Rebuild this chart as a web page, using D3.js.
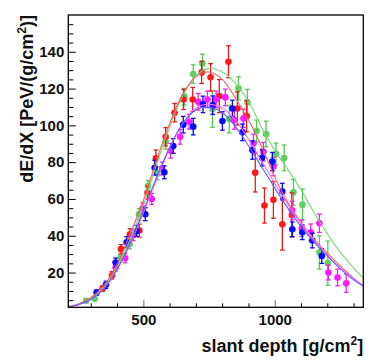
<!DOCTYPE html>
<html><head><meta charset="utf-8">
<script src="https://cdn.jsdelivr.net/npm/d3@7"></script>
<style>body{margin:0;background:#fff}svg{display:block}</style>
</head><body>
<svg id="chart" width="383" height="362"></svg>
<script>
// ---- data ----
const xDomain = [214.6, 1337];
const yDomain = [1.1, 160];
const xMajorTicks = [500, 1000];
const xMinorTicks = [300, 400, 600, 700, 800, 900, 1100, 1200, 1300];
const yMajorTicks = [20, 40, 60, 80, 100, 120, 140];
const yMinorTicks = [5,10,15,25,30,35,45,50,55,65,70,75,85,90,95,105,110,115,125,130,135,145,150,155];

const redX = [345, 381, 415, 449, 485, 516, 548, 585, 619, 653, 688, 722, 756, 789, 824, 858, 893, 926, 961, 995, 1029, 1065];
const redY = [11.3, 18.5, 32.7, 40.8, 42.8, 63.4, 82.1, 93.8, 106.9, 114.1, 114.1, 128.8, 126.1, 115.9, 134.6, 109.2, 105.0, 74.3, 56.4, 59.5, 46.2, 51.3];
const redE = [1.5, 2, 2.5, 3, 3.5, 3.5, 4.5, 5, 5, 5.5, 6.5, 6, 7.5, 9, 8.7, 9, 8.5, 10.5, 9.5, 10, 14, 12];

const greenX = [282, 315, 414, 448, 483.5, 518, 553, 585, 656, 690, 725, 763, 827, 862, 896, 931, 967, 1005, 1036, 1071, 1105.5, 1170, 1202];
const greenY = [4.6, 5.7, 28.3, 35.4, 51.7, 67, 73.9, 91.1, 115.6, 127.9, 133.7, 108.9, 103.4, 120.1, 112.6, 96.9, 95.3, 84.4, 82.3, 63.6, 56.9, 30.9, 25.1];
const greenE = [0.5, 0.5, 2, 2.5, 3, 3, 3.5, 4, 4.5, 5, 5, 10, 7.5, 6.3, 7, 6, 7, 6, 7, 7, 8.5, 9, 12];

const magX = [394.7, 431, 462, 497.5, 532, 572, 604, 640, 674, 709, 744, 777, 812, 846.5, 881, 919, 957, 995, 1066, 1103, 1137, 1170, 1204, 1239, 1272];
const magY = [22.7, 27.8, 40.3, 54.9, 60, 76.6, 86.2, 93.8, 102, 112.8, 114.1, 114.1, 115.2, 102.9, 103.8, 90.2, 85.7, 77.6, 53.7, 44.1, 41.9, 46.8, 20, 17.3, 14.2];
const magE = [2, 2.5, 3, 3, 3, 3.5, 4, 4, 4, 4.5, 4.5, 4.5, 4.5, 5, 5, 5, 5, 5, 5, 4.5, 4.5, 5, 4, 4.5, 5];

const blueX = [322.3, 357.9, 394.7, 436.5, 474.6, 507.6, 543, 580, 614, 652, 690, 727, 764, 801, 839, 877, 915, 952, 991, 1029, 1067, 1105, 1143, 1179];
const blueY = [9.1, 13.3, 25.4, 36.5, 42.6, 51.7, 77, 74.5, 88.8, 100.4, 99.3, 111.4, 111, 102.4, 109.2, 96.2, 86.6, 82.4, 80.3, 64, 43.5, 41.9, 37.4, 29];
const blueE = [1.5, 2, 2.5, 3, 3, 3.5, 4, 3.5, 4, 4.5, 4.5, 4.5, 5, 5, 4.5, 4.5, 5, 4.5, 5, 4.5, 4, 4, 4, 4];

const curveX = [214.6, 250, 300, 350, 400, 450, 500, 550, 600, 650, 700, 750, 800, 850, 900, 950, 1000, 1050, 1100, 1150, 1200, 1250, 1300, 1337];
const redCurve   = [1.5, 2.8, 6.3, 13, 24.5, 41, 59, 81, 101, 117, 126.5, 129, 125, 115, 103, 88.5, 72, 58, 47, 38, 30.5, 23.5, 17, 12.8];
const greenCurve = [1.5, 2.6, 5.8, 12, 23, 38, 56.5, 78.5, 99, 116, 127, 131, 129, 123, 113, 99, 86.5, 76, 65, 52.5, 41, 31, 22.5, 17];
const magCurve   = [1.3, 2.4, 5.3, 11.3, 21.5, 35.5, 52.5, 70.5, 87.5, 101, 109.5, 111.5, 109.5, 103, 92.5, 80.5, 68.5, 57, 46.5, 37.5, 29.5, 22.5, 16.5, 13];
const blueCurve  = [1.3, 2.4, 5.3, 11.3, 21.8, 36, 53.5, 71.5, 88, 101, 108.5, 110, 107, 99.5, 89, 77.5, 66, 55, 45, 36.5, 29, 22, 16, 12.6];

const xTitle = "slant depth [g/cm";
const yTitle = "dE/dX [PeV/(g/cm";

// ---- layout ----
const L = 68.3, R = 363.3, T = 15, B = 307.3;
const svg = d3.select("#chart");
const x = d3.scaleLinear().domain(xDomain).range([L, R]);
const y = d3.scaleLinear().domain(yDomain).range([B, T]);
const FONT = "'Liberation Sans', Arial, sans-serif";

const series = [
  {xs: greenX, ys: greenY, es: greenE, curve: greenCurve, pc: "#5ccf5c", cc: "#74d874", ec: "#55c855"},
  {xs: redX, ys: redY, es: redE, curve: redCurve, pc: "#ff1a1a", cc: "#ff5a5a", ec: "#e41a1a"},
  {xs: magX, ys: magY, es: magE, curve: magCurve, pc: "#ff1aff", cc: "#ff66ff", ec: "#ee22ee"},
  {xs: blueX, ys: blueY, es: blueE, curve: blueCurve, pc: "#0a0aff", cc: "#5f5fff", ec: "#0a0aee"}
];

const plot = svg.append("g");
const clip = svg.append("clipPath").attr("id", "clip").append("rect")
  .attr("x", L).attr("y", T).attr("width", R - L).attr("height", B - T);

// points + error bars
series.forEach(s => {
  const g = plot.append("g");
  s.xs.forEach((xv, i) => {
    const cx = x(xv), yv = s.ys[i], e = s.es[i];
    if (e > 1) {
      g.append("line").attr("x1", cx).attr("x2", cx)
        .attr("y1", y(yv + e)).attr("y2", y(yv - e))
        .attr("stroke", s.ec).attr("stroke-width", 1.3);
      [yv + e, yv - e].forEach(v => g.append("line")
        .attr("x1", cx - 2.3).attr("x2", cx + 2.3).attr("y1", y(v)).attr("y2", y(v))
        .attr("stroke", s.ec).attr("stroke-width", 1.3));
    }
    g.append("circle").attr("cx", cx).attr("cy", y(yv)).attr("r", 3.3).attr("fill", s.pc);
  });
});

// fit curves
const line = d3.line().x(d => x(d[0])).y(d => y(d[1])).curve(d3.curveCatmullRom);
series.forEach(s => {
  plot.append("path").attr("clip-path", "url(#clip)")
    .attr("d", line(curveX.map((xv, i) => [xv, s.curve[i]])))
    .attr("fill", "none").attr("stroke", s.cc).attr("stroke-width", 1.1);
});

// axes
function styleAxis(g) {
  g.select(".domain").remove();
  g.selectAll("text").attr("font-family", FONT).attr("font-weight", "bold")
    .attr("font-size", 15).attr("fill", "#111");
}
svg.append("g").attr("transform", `translate(0,${B})`)
  .call(d3.axisBottom(x).tickValues(xMinorTicks).tickSize(-4).tickFormat(""))
  .call(g => { g.select(".domain").remove(); g.selectAll("line").attr("stroke", "#000"); });
svg.append("g").attr("transform", `translate(0,${B})`)
  .call(d3.axisBottom(x).tickValues(xMajorTicks).tickSize(-7).tickPadding(7.5).tickFormat(d3.format("d")))
  .call(styleAxis).call(g => g.selectAll("line").attr("stroke", "#808080").attr("stroke-width", 1.2));
svg.append("g").attr("transform", `translate(${L},0)`)
  .call(d3.axisLeft(y).tickValues(yMinorTicks).tickSize(-5).tickFormat(""))
  .call(g => { g.select(".domain").remove(); g.selectAll("line").attr("stroke", "#000"); });
svg.append("g").attr("transform", `translate(${L},0)`)
  .call(d3.axisLeft(y).tickValues(yMajorTicks).tickSize(-7.5).tickPadding(4).tickFormat(d3.format("d")))
  .call(styleAxis).call(g => g.selectAll("line").attr("stroke", "#000"));

// frame
svg.append("rect").attr("x", L).attr("y", T).attr("width", R - L).attr("height", B - T)
  .attr("fill", "none").attr("stroke", "#000").attr("stroke-width", 1.3);

// titles
const xt = svg.append("text").attr("x", R).attr("y", 352).attr("text-anchor", "end")
  .attr("font-family", FONT).attr("font-weight", "bold").attr("font-size", 18).attr("fill", "#111");
xt.append("tspan").text(xTitle);
xt.append("tspan").attr("dy", -7).attr("font-size", 12).text("2");
xt.append("tspan").attr("dy", 7).text("]");

const yt = svg.append("text").attr("transform", "translate(33,15) rotate(-90)").attr("text-anchor", "end")
  .attr("font-family", FONT).attr("font-weight", "bold").attr("font-size", 18).attr("fill", "#111");
yt.append("tspan").text(yTitle);
yt.append("tspan").attr("dy", -7).attr("font-size", 12).text("2");
yt.append("tspan").attr("dy", 7).text(")]");
</script>
</body></html>
